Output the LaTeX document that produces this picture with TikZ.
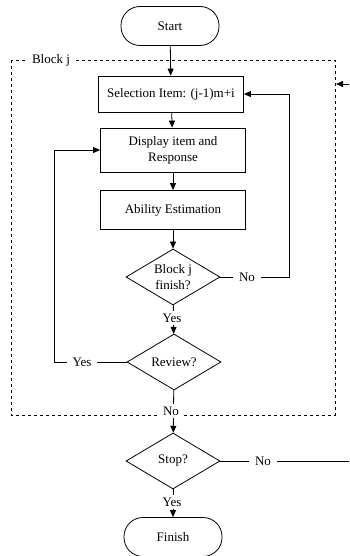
\documentclass[tikz,border=0pt]{standalone}
\usepackage{fontspec}
\setmainfont{Liberation Serif}
\usetikzlibrary{shapes.geometric,arrows.meta}
\tikzset{
  every node/.style={font=\fontsize{13}{16}\selectfont},
  terminal/.style={draw,rounded corners=19pt,minimum width=98pt,minimum height=39pt},
  process/.style={draw,minimum width=145pt,align=center},
  decision/.style={draw,diamond,aspect=1.7,inner sep=0pt,minimum width=94pt,minimum height=56pt,align=center},
  answer/.style={fill=white,inner sep=3pt},
  flow/.style={-{Triangle[length=7pt,width=6pt]}},
}
\begin{document}
\begin{tikzpicture}[x=1pt,y=-1pt,line width=0.8pt]
\useasboundingbox (0,0) rectangle (349,556);
% dashed block
\draw[dashed,line width=0.7pt] (11,60) rectangle (335,415);
\node[answer,inner sep=4pt] (blk) at (51,60) {Block j};
% nodes
\node[terminal] (start) at (170,26) {Start};
\node[process,minimum height=36pt] (sel) at (171,94) {Selection Item: (j-1)m+i};
\node[process,minimum height=44pt] (disp) at (173,150) {Display item and\\Response};
\node[process,minimum height=39pt] (abil) at (173,210) {Ability Estimation};
\node[decision] (bfin) at (173,277) {Block j\\finish?};
\node[decision] (rev) at (174,362) {Review?};
\node[decision] (stop) at (173,461) {Stop?};
\node[terminal] (fin) at (173,537) {Finish};
\coordinate (stopout) at (349,461);
\coordinate (loopin) at (349,84);
\coordinate (blkin) at (336,84);
% connectors
\draw[flow] (start) -- (sel);
\draw[flow] (sel) -- (disp);
\draw[flow] (disp) -- (abil);
\draw[flow] (abil) -- (bfin);
\draw[flow] (bfin.east) -- (289,277) |- (sel.east);
\draw[flow] (bfin) -- (rev);
\draw[flow] (rev.west) -- (54,362) |- (disp.west);
\draw[flow] (rev) -- (stop);
\draw (stop.east) -- (stopout);
\draw[flow] (stop) -- (fin);
\draw[flow] (loopin) -- (blkin);
% answers
\node[answer,inner sep=6pt] at (247,277) {No};
\node[answer] at (172,318) {Yes};
\node[answer,inner sep=6pt] at (82,362) {Yes};
\node[answer] at (171,411) {No};
\node[answer,inner sep=6pt] at (263,461) {No};
\node[answer] at (172,502) {Yes};
\end{tikzpicture}
\end{document}
